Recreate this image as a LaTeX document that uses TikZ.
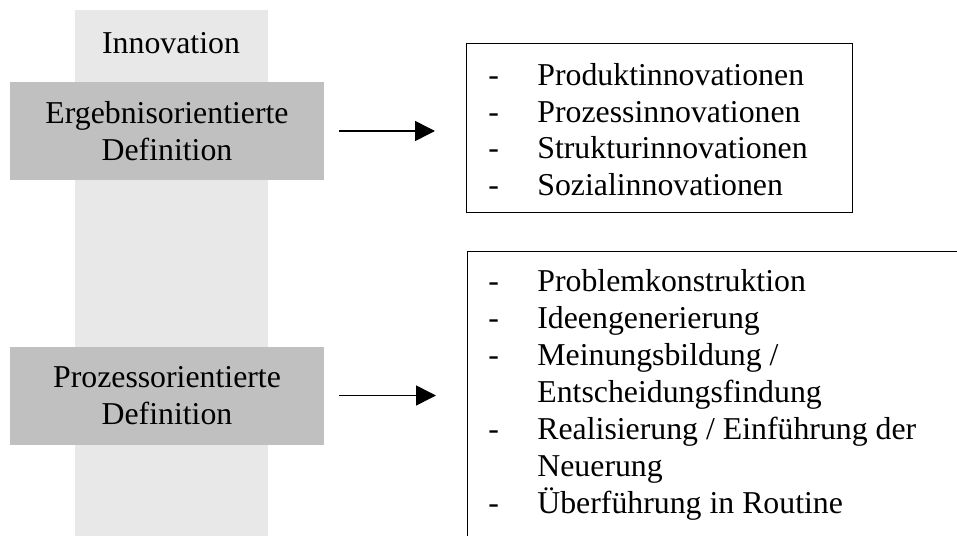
\documentclass[tikz,border=0pt]{standalone}
\usepackage{fontspec}
\setmainfont{Liberation Serif}
\usetikzlibrary{arrows.meta}
\usetikzlibrary{positioning}
\definecolor{bandgrau}{HTML}{E8E8E8}
\definecolor{boxgrau}{HTML}{C0C0C0}
\tikzset{
  schrift/.style={font=\fontsize{15.9}{18.3}\selectfont},
  definition/.style={schrift, fill=boxgrau, minimum width=157pt, minimum height=49pt, align=center, inner sep=0pt},
  rahmen/.style={draw, line width=0.7pt, anchor=north west, inner sep=0pt},
  liste/.style={schrift, align=left, anchor=west, inner sep=0pt},
  pfeil/.style={-{Triangle[length=10pt, width=10pt]}, line width=0.8pt}
}
\newcommand{\strich}{\makebox[24.5pt][l]{-}}

\begin{document}
\begin{tikzpicture}[x=0.5pt, y=-0.5pt]
	\clip (0,0) rectangle (957,535);
	% Hintergrundband
	\fill[bandgrau] (75,10) rectangle (268,540);
	\node[schrift] (innovation) at (171,43) {Innovation};
	\node[definition] (ergebnis) at (167,131) {Ergebnisorientierte\\Definition};
	\node[definition] (prozess) at (167,395.5) {Prozessorientierte\\Definition};
	% Rahmen rechts
	\node[rahmen, minimum width=193pt, minimum height=84.5pt] (ergebnisrahmen) at (466,43) {};
	\node[rahmen, minimum width=260pt, minimum height=150pt] (prozessrahmen) at (467,251) {};
	\node[liste] (ergebnisliste) at (488,129.5) {\strich Produktinnovationen\\\strich Prozessinnovationen\\\strich Strukturinnovationen\\\strich Sozialinnovationen};
	\node[liste, font=\fontsize{15.9}{18.5}\selectfont] (prozessliste) at (488,394.5) {\strich Problemkonstruktion\\\strich Ideengenerierung\\\strich Meinungsbildung /\\\hspace*{24.5pt}Entscheidungsfindung\\\strich Realisierung / Einführung der\\\hspace*{24.5pt}Neuerung\\\strich Überführung in Routine};
	% Pfeile
	\draw[pfeil, shorten <=7.5pt, shorten >=15.5pt] (ergebnis.east) -- (ergebnis.east -| ergebnisrahmen.west);
	\draw[pfeil, shorten <=7.5pt, shorten >=15.5pt] (prozess.east) -- (prozess.east -| prozessrahmen.west);
\end{tikzpicture}
\end{document}
